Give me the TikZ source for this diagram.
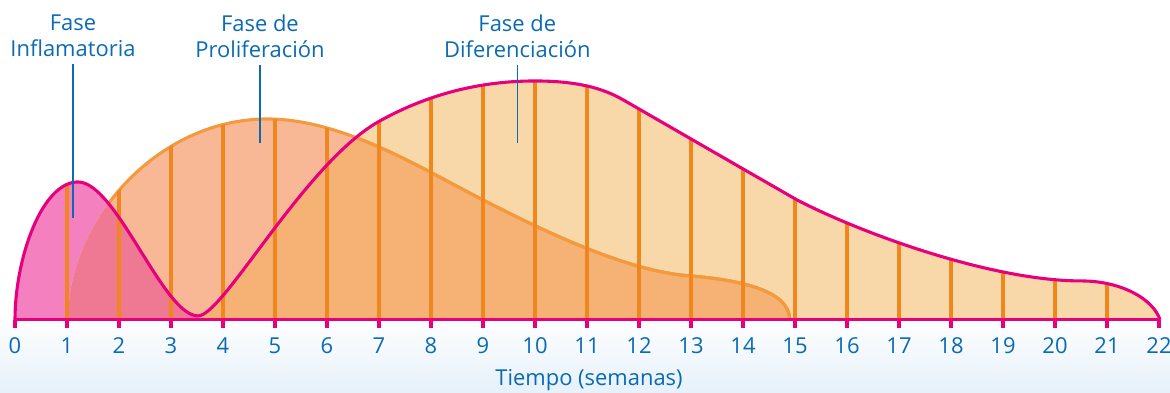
\documentclass[tikz,border=0pt]{standalone}
\usepackage{fontspec}
\setmainfont{Open Sans}

\definecolor{labelblue}{HTML}{0A6AB4}
\definecolor{curvemagenta}{HTML}{E6007E}
\definecolor{curveorange}{HTML}{F39A3E}
\definecolor{gridorange}{HTML}{F0861E}
\definecolor{inflampink}{HTML}{F480C0}
\definecolor{prolifsalmon}{HTML}{F8B896}
\definecolor{difpeach}{HTML}{F8D8A8}
\definecolor{overlappeach}{HTML}{F5B274}
\definecolor{overlappink}{HTML}{EF7892}
\definecolor{bgblue}{HTML}{E6F1FA}

% curve of the inflammation and differentiation phases
\def\magcurve{(0,0) .. controls (0,62) and (0.52,138) .. (1.21,138)
  .. controls (1.95,138) and (2.85,4) .. (3.52,4)
  .. controls (4.0,4) and (5.55,155) .. (6.98,198)
  .. controls (7.8,222) and (8.8,239) .. (10,239)
  .. controls (10.8,239) and (11.3,232) .. (11.7,220)
  .. controls (12.8,187) and (13.9,154) .. (15.04,120)
  .. controls (16.3,86) and (18.8,39) .. (20.5,39)
  .. controls (21.3,39) and (21.9,20) .. (22.02,0)}
% curve of the proliferation phase
\def\orgcurve{(1.02,0) .. controls (1.02,100) and (2.75,201) .. (4.85,201)
  .. controls (6.3,201) and (7.8,152) .. (9,120)
  .. controls (10.2,88) and (11.8,48) .. (13,44)
  .. controls (13.9,40) and (14.9,30) .. (14.9,0)}

\begin{document}
\begin{tikzpicture}[x=1.3cm, y=0.025cm,
  phase/.style={align=center, text=labelblue, font=\fontsize{15.6}{18.4}\selectfont, inner sep=0pt, anchor=north},
  pointer/.style={draw=labelblue, line width=0.9pt, shorten <=5pt},
  weeklabel/.style={text=labelblue, font=\fontsize{15.6}{18.4}\selectfont, inner sep=0pt, anchor=base},
  gridline/.style={draw=gridorange, line width=2.2pt},
  magentaline/.style={draw=curvemagenta, line width=2.2pt},
  orangeline/.style={draw=curveorange, line width=2.2pt}]

\useasboundingbox (-0.2885,-73) rectangle (22.2115,320);
\shade[top color=white, bottom color=bgblue] (-0.2885,-73) rectangle (22.2115,5);

% fill the areas
\fill[difpeach] \magcurve -- cycle;
\begin{scope}
\clip (-1,-10) rectangle (3.52,400);
\fill[inflampink] \magcurve -- cycle;
\end{scope}
\fill[prolifsalmon] \orgcurve -- cycle;
\begin{scope}
\clip \orgcurve -- cycle;
\fill[overlappeach] \magcurve -- cycle;
\clip (-1,-10) rectangle (3.52,400);
\fill[overlappink] \magcurve -- cycle;
\end{scope}

% outline of the proliferation phase
\begin{scope}
\clip (3.52,-10) rectangle (23,400);
\draw[orangeline] \orgcurve;
\end{scope}
\begin{scope}[even odd rule]
\clip (-1,-10) rectangle (3.52,400) \magcurve -- cycle;
\draw[orangeline] \orgcurve;
\end{scope}

% week lines
\begin{scope}
\clip \magcurve -- cycle \orgcurve -- cycle;
\foreach \w in {1,...,21}
  \draw[gridline] (\w,0) -- (\w,300);
\end{scope}

\draw[magentaline] \magcurve;

% time axis
\coordinate (origin) at (0,0);
\coordinate (axisend) at (22.02,0);
\draw[magentaline] (origin) -- (axisend);
\foreach \w in {0,...,22} {
  \draw[magentaline] (\w,0) -- (\w,-8);
  \node[weeklabel] (week\w) at (\w,-34) {\w};
}
\node[weeklabel] (timelabel) at (11.04,-66) {Tiempo (semanas)};

% phase labels
\node[phase] (inflam) at (1.115,305) {Fase\\Inflamatoria};
\coordinate (inflam_tip) at (1.115,102);
\draw[pointer] (inflam.south) -- (inflam_tip);

\node[phase] (prolif) at (4.71,305) {Fase de\\Proliferación};
\coordinate (prolif_tip) at (4.71,177);
\draw[pointer] (prolif.south) -- (prolif_tip);

\node[phase] (difer) at (9.66,305) {Fase de\\Diferenciación};
\coordinate (difer_tip) at (9.66,177);
\draw[pointer] (difer.south) -- (difer_tip);

\end{tikzpicture}
\end{document}
